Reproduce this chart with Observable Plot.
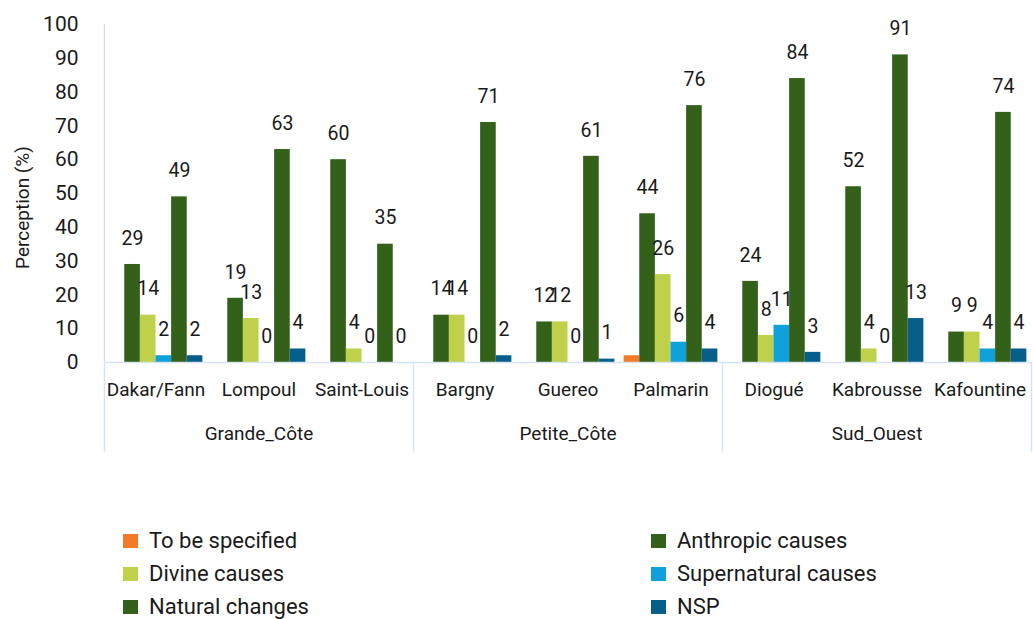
<!DOCTYPE html>
<html>
<head>
<meta charset="utf-8">
<script src="https://cdn.jsdelivr.net/npm/d3@7"></script>
<script src="https://cdn.jsdelivr.net/npm/@observablehq/plot@0.6"></script>
<style>
  body { margin: 0; background: #fff; font-family: Roboto, "DejaVu Sans", sans-serif; color: #1a1a1a; }
  #legend { display: grid; grid-template-columns: 528px auto; padding-left: 123px; margin-top: 4px; font-size: 22px; }
  #legend .item { display: flex; align-items: center; height: 33px; }
  #legend .sw { width: 15px; height: 14px; margin-right: 11px; flex: none; }
</style>
</head>
<body>
<div id="chart"></div>
<script>
const sites = ["Dakar/Fann", "Lompoul", "Saint-Louis", "Bargny", "Guereo", "Palmarin", "Diogué", "Kabrousse", "Kafountine"];
const siteRegion = ["Grande_Côte", "Grande_Côte", "Grande_Côte", "Petite_Côte", "Petite_Côte", "Petite_Côte", "Sud_Ouest", "Sud_Ouest", "Sud_Ouest"];
const regions = ["Grande_Côte", "Petite_Côte", "Sud_Ouest"];
const series = ["To be specified", "Anthropic causes", "Divine causes", "Supernatural causes", "Natural changes", "NSP"];
const colors = ["#f47a28", "#336119", "#bfd04a", "#0ea1dc", "#336119", "#065f8a"];
const showLabel = [false, true, true, true, true, true];

const toBeSpecified = [0, 0, 0, 0, 0, 2, 0, 0, 0];
const anthropic     = [29, 19, 60, 14, 12, 44, 24, 52, 9];
const divine        = [14, 13, 4, 14, 12, 26, 8, 4, 9];
const supernatural  = [2, 0, 0, 0, 0, 6, 11, 0, 4];
const natural       = [49, 63, 35, 71, 61, 76, 84, 91, 74];
const nsp           = [2, 4, 0, 2, 1, 4, 3, 13, 4];
const values = [toBeSpecified, anthropic, divine, supernatural, natural, nsp];

const yTicks = [0, 10, 20, 30, 40, 50, 60, 70, 80, 90, 100];

// layout within each site band (fractions of a band)
const pad = 0.045;
const bw = (1 - 2 * pad) / series.length;

const rows = [];
sites.forEach((site, i) => {
  series.forEach((s, j) => {
    const x1 = i + pad + j * bw;
    rows.push({site, series: s, j, value: values[j][i], x1, x2: x1 + bw, xm: x1 + bw / 2});
  });
});

const bounds = [0];
siteRegion.forEach((r, i) => { if (i > 0 && r !== siteRegion[i - 1]) bounds.push(i); });
bounds.push(sites.length);

const regionPos = regions.map(r => ({
  region: r,
  x: d3.mean(sites.map((s, i) => i).filter(i => siteRegion[i] === r)) + 0.5
}));

const chart = Plot.plot({
  width: 1033,
  height: 520,
  marginLeft: 104,
  marginRight: 2,
  marginTop: 24,
  marginBottom: 158,
  style: {fontFamily: "Roboto, sans-serif", fontSize: "21px", color: "#1a1a1a", background: "#fff"},
  x: {domain: [0, sites.length], axis: null},
  y: {domain: [0, 100], ticks: yTicks, tickSize: 0, tickPadding: 26, label: null},
  color: {domain: series, range: colors},
  marks: [
    Plot.ruleX([0], {y1: 0, y2: 100, stroke: "#d9d9d9", strokeWidth: 1.2}),
    Plot.rectY(rows, {x1: "x1", x2: "x2", y: "value", fill: d => colors[d.j]}),
    Plot.ruleY([0], {stroke: "#d6e3f3", strokeWidth: 1.5}),
    Plot.ruleX(bounds, {y1: 0, y2: -26.5, stroke: "#d6e3f3", strokeWidth: 1.5}),
    Plot.text(rows.filter(d => showLabel[d.j]), {x: "xm", y: "value", text: d => String(d.value), dy: -26, fontSize: 19.5, fill: "#1a1a1a"}),
    Plot.text(sites, {x: (d, i) => i + 0.5, frameAnchor: "bottom", dy: 33, fontSize: 19, fill: "#1a1a1a"}),
    Plot.text(regionPos, {x: "x", text: "region", frameAnchor: "bottom", dy: 77, fontSize: 19, fill: "#1a1a1a"}),
    Plot.text(["Perception (%)"], {frameAnchor: "left", textAnchor: "middle", rotate: -90, dx: -82, dy: 14, fontSize: 19, fill: "#1a1a1a"})
  ]
});
document.getElementById("chart").appendChild(chart);

// legend (row-major, two columns)
const legend = document.createElement("div");
legend.id = "legend";
series.forEach((s, j) => {
  const item = document.createElement("div");
  item.className = "item";
  const sw = document.createElement("span");
  sw.className = "sw";
  sw.style.background = colors[j];
  const t = document.createElement("span");
  t.textContent = s;
  item.appendChild(sw);
  item.appendChild(t);
  legend.appendChild(item);
});
document.getElementById("chart").appendChild(legend);
</script>
</body>
</html>
